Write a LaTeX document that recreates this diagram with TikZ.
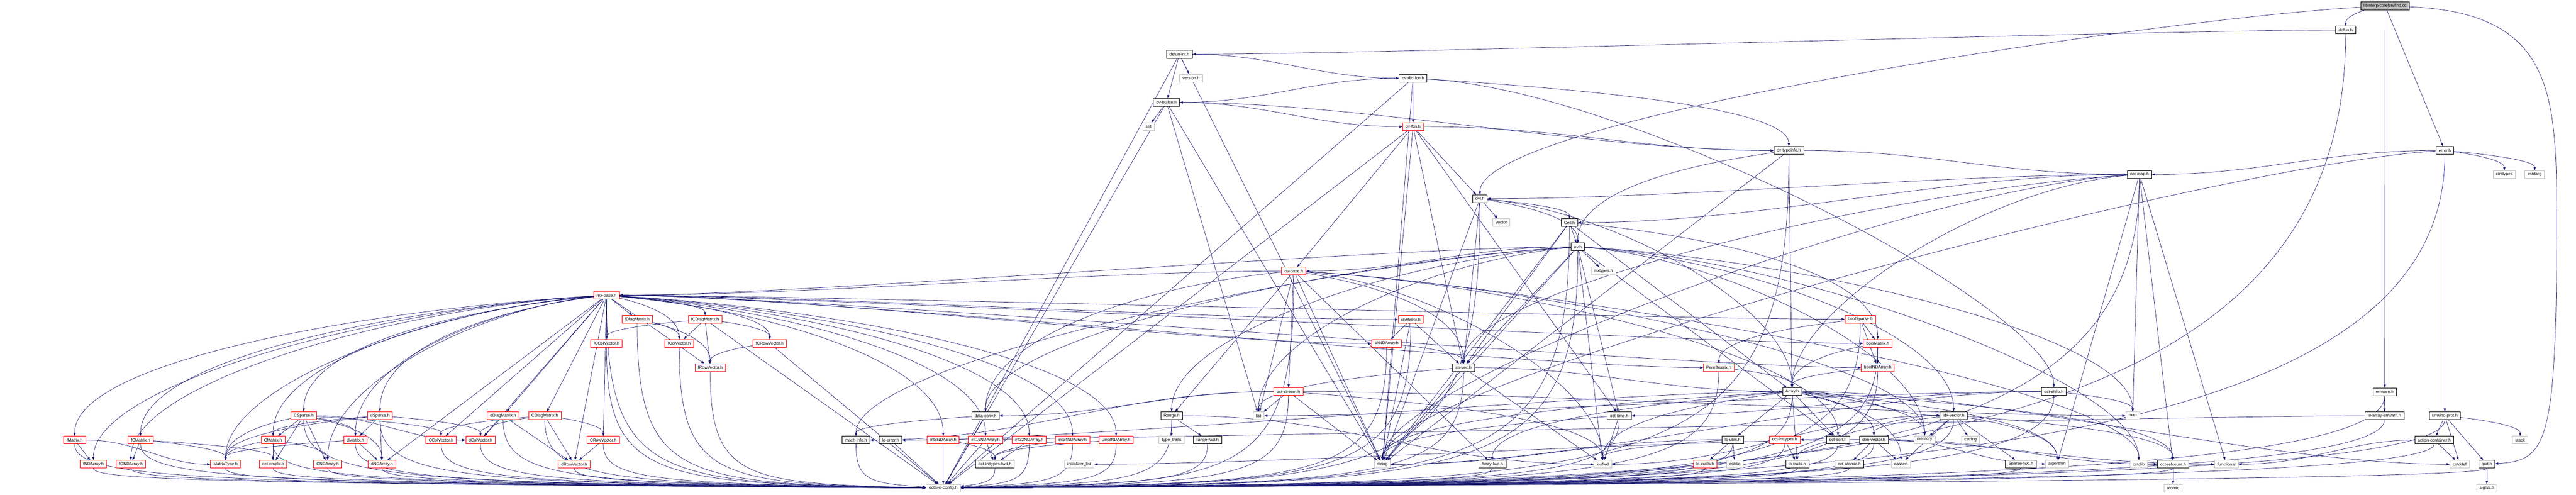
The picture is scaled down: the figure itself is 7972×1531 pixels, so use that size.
\documentclass[tikz,border=0pt]{standalone}
\usepackage{fontspec}
\setmainfont{Liberation Sans}
\usetikzlibrary{arrows.meta}
\definecolor{edgeblue}{RGB}{25,25,112}
\definecolor{sysgray}{RGB}{191,191,191}
\pgfdeclarelayer{bg}
\pgfsetlayers{bg,main}
\tikzset{
  hfile/.style={draw=black, fill=white, line width=1.2pt, minimum height=24pt, inner xsep=9pt, inner ysep=0pt},
  redfile/.style={hfile, draw=red},
  sysfile/.style={hfile, draw=sysgray},
  rootfile/.style={hfile, fill=sysgray, minimum height=25pt},
  dep/.style={draw=edgeblue, line width=1.1pt, -{Triangle[length=10pt,width=7pt]}}
}
\newdimen\edxa \newdimen\edya \newdimen\edxb \newdimen\edyb
\def\sinkname{octaveconfig}
% one include edge per target, shape picked from the offset
\newcommand\ed[2]{%
  \foreach \tgt in {#2}{%
    \pgfextractx{\edxa}{\pgfpointanchor{#1}{center}}%
    \pgfextracty{\edya}{\pgfpointanchor{#1}{center}}%
    \pgfextractx{\edxb}{\pgfpointanchor{\tgt}{center}}%
    \pgfextracty{\edyb}{\pgfpointanchor{\tgt}{center}}%
    \pgfmathsetmacro\ddx{\edxb-\edxa}%
    \pgfmathsetmacro\ddy{\edya-\edyb}%
    \pgfmathsetmacro\sg{(\ddx<0) ? -1 : 1}%
    \pgfmathsetmacro\adx{abs(\ddx)}%
    \edef\tmpname{\tgt}%
    \ifx\tmpname\sinkname
      \pgfmathtruncatemacro\kind{(\adx<=1.5*\ddy) ? 1 : 4}%
    \else
      \pgfmathtruncatemacro\kind{(\ddy<15) ? 3 : ((\adx<=1.5*\ddy) ? 1 : ((\adx>6*\ddy) ? 3 : 2))}%
    \fi
    \ifcase\kind
    \or
      \draw[dep] (#1) -- (\tgt);
    \or
      \pgfmathsetmacro\ca{\sg*min(0.45*\adx,700)}%
      \pgfmathsetmacro\cy{min(0.15*\ddy,40)}%
      \pgfmathsetmacro\cc{min(0.6*\ddy,250)}%
      \draw[dep] (#1) .. controls +(\ca,\cy) and +(0,-\cc) .. (\tgt);
    \or
      \pgfmathsetmacro\ca{\sg*min(0.4*\adx,600)}%
      \draw[dep] (#1) .. controls +(\ca,0) and +(-\ca,0) .. (\tgt);
    \or
      \pgfmathsetmacro\ca{max(\ddy-25,0.5*\ddy)}%
      \pgfmathsetmacro\cb{-\sg*min(0.85*\adx,2500)}%
      \draw[dep] (#1) .. controls +(0,\ca) and +(\cb,-15) .. (\tgt);
    \fi
  }}

\begin{document}
\begin{tikzpicture}[x=1pt, y=-1pt, font=\fontsize{13}{15}\selectfont]
\useasboundingbox (0,0) rectangle (7972,1531);

\node[rootfile] (find) at (7381,18) {libinterp/corefcn/find.cc};

\foreach \n/\px/\py/\txt in {
  defun/7259/93/defun.h, defunint/3650/168/defun-int.h, ovdldfcn/4373/242/ov-dld-fcn.h,
  ovbuiltin/3610/317/ov-builtin.h, ovtypeinfo/5536/466/ov-typeinfo.h, error/7566/466/error.h,
  octmap/6621/540/oct-map.h, ovl/4580/615/ovl.h, Cell/4857/689/Cell.h, ov/4883/764/ov.h,
  strvec/4529/1138/str-vec.h, Array/5546/1212/Array.h, octshlib/6356/1212/oct-shlib.h,
  errwarn/7380/1213/errwarn.h, dataconv/3050/1287/data-conv.h, Range/3626/1287/Range.h,
  octtime/5011/1287/oct-time.h, idxvector/6046/1286/idx-vector.h,
  loarrayerrwarn/7379/1287/lo-array-errwarn.h, unwindprot/7566/1287/unwind-prot.h,
  machinfo/2649/1362/mach-info.h, loerror/2756/1362/lo-error.h, rangefwd/3737/1362/range-fwd.h,
  loutils/5362/1361/lo-utils.h, octsort/5688/1361/oct-sort.h, dimvector/5799/1361/dim-vector.h,
  actioncontainer/7533/1362/action-container.h, octinttypesfwd/3079/1437/oct-inttypes-fwd.h,
  Arrayfwd/4618/1437/Array-fwd.h, lotraits/5562/1436/lo-traits.h, octatomic/5723/1436/oct-atomic.h,
  Sparsefwd/6254/1436/Sparse-fwd.h, octrefcount/6725/1437/oct-refcount.h, quit/7696/1437/quit.h}
  \node[hfile] (\n) at (\px,\py) {\txt};

\foreach \n/\px/\py/\txt in {
  ovfcn/4373/392/ov-fcn.h, ovbase/4004/839/ov-base.h, mxbase/1877/914/mx-base.h,
  fDiagMatrix/1972/989/fDiagMatrix.h, fCDiagMatrix/2182/989/fCDiagMatrix.h,
  chMatrix/4366/989/chMatrix.h, boolSparse/5757/988/boolSparse.h,
  fCColVector/1877/1063/fCColVector.h, fColVector/2102/1063/fColVector.h,
  fCRowVector/2382/1063/fCRowVector.h, chNDArray/4291/1063/chNDArray.h,
  boolMatrix/5811/1063/boolMatrix.h, fRowVector/2198/1138/fRowVector.h,
  PermMatrix/5319/1138/PermMatrix.h, boolNDArray/5811/1138/boolNDArray.h,
  octstream/3987/1212/oct-stream.h, CSparse/940/1287/CSparse.h, dSparse/1176/1287/dSparse.h,
  dDiagMatrix/1557/1287/dDiagMatrix.h, CDiagMatrix/1686/1287/CDiagMatrix.h,
  fMatrix/231/1362/fMatrix.h, fCMatrix/435/1362/fCMatrix.h, CMatrix/845/1362/CMatrix.h,
  dMatrix/1100/1362/dMatrix.h, CColVector/1365/1362/CColVector.h,
  dColVector/1487/1362/dColVector.h, CRowVector/1867/1362/CRowVector.h,
  int8NDArray/2919/1362/int8NDArray.h, int16NDArray/3050/1362/int16NDArray.h,
  int32NDArray/3185/1362/int32NDArray.h, int64NDArray/3319/1362/int64NDArray.h,
  uint8NDArray/3454/1362/uint8NDArray.h, octinttypes/5523/1361/oct-inttypes.h,
  fNDArray/289/1437/fNDArray.h, fCNDArray/405/1437/fCNDArray.h, MatrixType/698/1437/MatrixType.h,
  octcmplx/845/1437/oct-cmplx.h, CNDArray/1014/1437/CNDArray.h, dNDArray/1182/1437/dNDArray.h,
  dRowVector/1777/1437/dRowVector.h, locutils/5277/1436/lo-cutils.h}
  \node[redfile] (\n) at (\px,\py) {\txt};

\foreach \n/\px/\py/\txt in {
  version/3686/242/version.h, set/3554/392/set, cinttypes/7750/540/cinttypes,
  cstdarg/7844/540/cstdarg, vector/4646/689/vector, mxtypes/4962/839/mxtypes.h,
  list/3895/1287/list, map/6600/1287/map, typetraits/3626/1362/type\_traits,
  memory/5956/1361/memory, cstring/6098/1361/cstring, stack/7799/1362/stack,
  initlist/3340/1437/initializer\_list, string/4278/1437/string, iosfwd/4960/1437/iosfwd,
  cstdio/5369/1436/cstdio, cassert/5883/1436/cassert, algorithm/6366/1436/algorithm,
  cstdlib/6619/1437/cstdlib, functional/6890/1437/functional, cstddef/7612/1437/cstddef,
  octaveconfig/2919/1511/octave-config.h, atomic/6725/1511/atomic, signal/7696/1511/signal.h}
  \node[sysfile] (\n) at (\px,\py) {\txt};

\begin{pgfonlayer}{bg}
\ed{find}{defun,error,errwarn,ovl}
\draw[dep] (find) .. controls (7912,40) and (7912,300) .. (7912,700)
  .. controls (7912,1380) and (7880,1425) .. (quit);
\ed{defun}{defunint,octaveconfig}
\ed{defunint}{version,ovbuiltin,ovdldfcn,string,octaveconfig}
\ed{ovdldfcn}{ovbuiltin,ovfcn,ovtypeinfo,octshlib,string,octaveconfig}
\ed{ovbuiltin}{set,ovfcn,ovtypeinfo,list,string,octaveconfig}
\ed{ovfcn}{ovl,ovbase,ovtypeinfo,strvec,octtime,string,octaveconfig}
\ed{ovtypeinfo}{Array,octmap,ov,string,octaveconfig}
\ed{error}{cinttypes,cstdarg,octmap,unwindprot,string,octaveconfig}
\ed{octmap}{Cell,ovl,octrefcount,map,Array,string,strvec,algorithm,functional,octaveconfig}
\ed{ovl}{vector,Cell,ov,strvec,string,Array,octaveconfig}
\ed{Cell}{ov,strvec,string,Array,boolMatrix,octaveconfig}
\ed{ov}{mxtypes,ovbase,strvec,octtime,iosfwd,string,list,map,memory,cstdlib,dataconv,idxvector,machinfo,mxbase,octsort,Range,octaveconfig}
\ed{ovbase}{octstream,strvec,string,Arrayfwd,iosfwd,list,memory,cstdlib,mxbase,dataconv,Range,octsort,octaveconfig}
\ed{mxbase}{fMatrix,fNDArray,fCMatrix,fCNDArray,CSparse,dSparse,CMatrix,dMatrix,MatrixType,CNDArray,dNDArray,CColVector,dColVector,dDiagMatrix,CDiagMatrix,CRowVector,dRowVector,fCColVector,fDiagMatrix,fCDiagMatrix,fColVector,fRowVector,fCRowVector,chMatrix,chNDArray,boolMatrix,boolNDArray,boolSparse,PermMatrix,int8NDArray,int16NDArray,int32NDArray,int64NDArray,uint8NDArray,octaveconfig}
\ed{fDiagMatrix}{fColVector,fRowVector,octaveconfig}
\ed{fCDiagMatrix}{fCColVector,fColVector,fCRowVector,fRowVector,octaveconfig}
\ed{fCRowVector}{fRowVector,octaveconfig}
\ed{dDiagMatrix}{dColVector,dRowVector,octaveconfig}
\ed{CDiagMatrix}{CColVector,dColVector,CRowVector,dRowVector,octaveconfig}
\ed{CRowVector}{dRowVector,octaveconfig}
\ed{CSparse}{CMatrix,dMatrix,MatrixType,octcmplx,CNDArray,dNDArray,CColVector,dColVector,octaveconfig}
\ed{dSparse}{dMatrix,CMatrix,MatrixType,dNDArray,dColVector,octaveconfig}
\ed{fMatrix}{fNDArray,MatrixType,octaveconfig}
\ed{fCMatrix}{fCNDArray,MatrixType,octcmplx,octaveconfig}
\ed{CMatrix}{MatrixType,octcmplx,CNDArray,octaveconfig}
\ed{dMatrix}{MatrixType,dNDArray,octaveconfig}
\ed{chMatrix}{chNDArray,strvec,string,octaveconfig}
\ed{chNDArray}{strvec,octaveconfig}
\ed{strvec}{string,iosfwd,Array,list,octaveconfig}
\ed{octstream}{list,string,iosfwd,map,dataconv,machinfo,octaveconfig}
\ed{octtime}{iosfwd,string,octaveconfig}
\ed{dataconv}{machinfo,octaveconfig}
\ed{Range}{typetraits,rangefwd,iosfwd,octaveconfig}
\ed{int8NDArray}{octinttypesfwd,octaveconfig}
\ed{int16NDArray}{octinttypesfwd,octaveconfig}
\ed{int32NDArray}{octinttypesfwd,octaveconfig}
\ed{int64NDArray}{octinttypesfwd,octaveconfig}
\ed{uint8NDArray}{octinttypesfwd,octaveconfig}
\ed{Array}{loutils,octsort,dimvector,lotraits,cassert,memory,idxvector,algorithm,iosfwd,string,cstddef,loerror,octrefcount,Arrayfwd,octaveconfig}
\ed{PermMatrix}{Array,octaveconfig}
\ed{boolSparse}{boolMatrix,boolNDArray,PermMatrix,octaveconfig}
\ed{boolMatrix}{boolNDArray,Array,octaveconfig}
\ed{boolNDArray}{Array,octaveconfig}
\ed{idxvector}{dimvector,memory,cstring,cassert,algorithm,Sparsefwd,octinttypes,octrefcount,iosfwd,octaveconfig}
\ed{loutils}{locutils,cstdio,iosfwd,string,octaveconfig}
\ed{octinttypes}{lotraits,octaveconfig}
\ed{octsort}{lotraits,functional,octaveconfig}
\ed{dimvector}{octatomic,cassert,initlist,algorithm,octrefcount,octaveconfig}
\ed{octshlib}{list,map,string,octtime,octaveconfig}
\ed{errwarn}{loarrayerrwarn,octaveconfig}
\ed{loarrayerrwarn}{loerror,octaveconfig}
\ed{unwindprot}{actioncontainer,cstddef,stack,quit,octaveconfig}
\ed{actioncontainer}{cstddef,functional,octaveconfig}
\ed{quit}{signal,octaveconfig}
\ed{octrefcount}{atomic,octaveconfig}
\foreach \s in {fCColVector,fColVector,fRowVector,CColVector,dColVector,dRowVector,fNDArray,fCNDArray,MatrixType,octcmplx,CNDArray,dNDArray,rangefwd,machinfo,loerror,octinttypesfwd,Arrayfwd,Sparsefwd,lotraits,octatomic,locutils}
  {\ed{\s}{octaveconfig}}
\end{pgfonlayer}
\end{tikzpicture}
\end{document}
